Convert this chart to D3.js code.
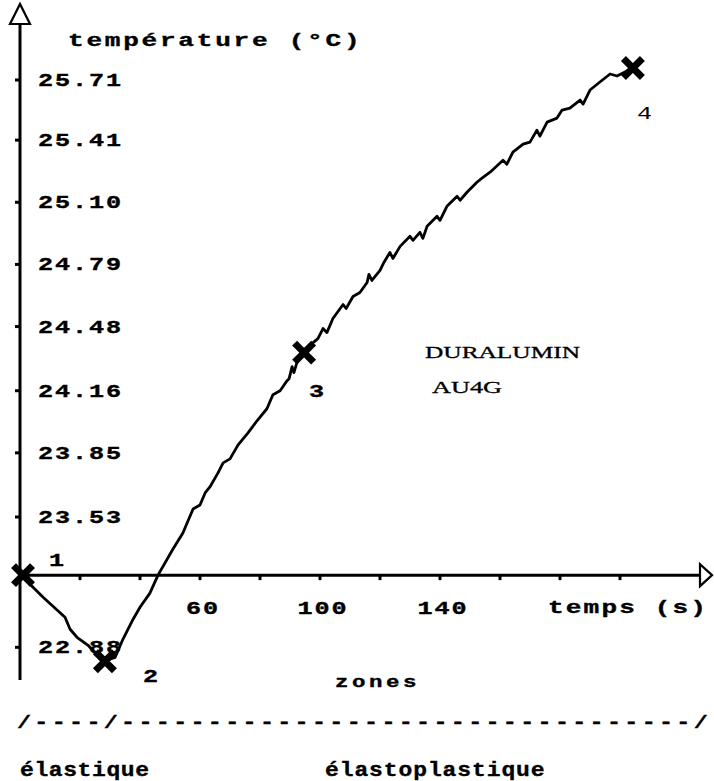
<!DOCTYPE html>
<html>
<head>
<meta charset="utf-8">
<script src="https://cdn.jsdelivr.net/npm/d3@7"></script>
<style>
html,body{margin:0;padding:0;background:#fff;}
svg{display:block;}
</style>
</head>
<body>
<svg id="chart" width="714" height="781"></svg>
<script>
// ---- data ----
const timeS = [0, 1, 7.7, 15, 16.7, 19, 22.7, 25.7, 27.7, 31.7, 34.3, 37.7, 40, 43.3, 46, 51, 54.3, 55.7, 57.7, 60, 61.7, 63.3, 66, 67.7, 70, 72.7, 76, 79, 82.3, 84.3, 86.7, 89, 89.7, 90.7, 91.3, 92.3, 93.3, 94.3, 97.7, 99.3, 101, 102.3, 104.3, 107.7, 108.7, 111, 113.3, 115.7, 116.3, 117.3, 120, 121.3, 123.3, 124.3, 126.7, 130, 131, 133.3, 134.3, 135.7, 139, 140, 142.3, 145.7, 146.7, 149, 152.3, 154, 156.7, 161, 162.3, 164.3, 167.7, 170, 172.3, 173.3, 175.7, 179, 180.7, 183.3, 186.7, 187.7, 190, 193.3, 196.7, 199, 204.3];
const tempC = [23.24, 23.23, 23.13, 23.03, 22.97, 22.93, 22.89, 22.84, 22.81, 22.83, 22.92, 23.02, 23.08, 23.15, 23.24, 23.37, 23.45, 23.50, 23.57, 23.59, 23.65, 23.68, 23.75, 23.80, 23.82, 23.89, 23.95, 24.01, 24.07, 24.14, 24.16, 24.21, 24.22, 24.28, 24.25, 24.30, 24.33, 24.35, 24.40, 24.42, 24.47, 24.45, 24.52, 24.59, 24.57, 24.63, 24.65, 24.70, 24.74, 24.71, 24.76, 24.80, 24.85, 24.82, 24.88, 24.93, 24.91, 24.95, 24.92, 24.98, 25.03, 25.01, 25.08, 25.13, 25.11, 25.15, 25.20, 25.22, 25.25, 25.31, 25.29, 25.35, 25.39, 25.40, 25.46, 25.43, 25.50, 25.52, 25.56, 25.57, 25.61, 25.59, 25.66, 25.70, 25.74, 25.73, 25.77];

const markerTime = [1, 28.3, 94.7, 204.3];
const markerTemp = [23.24, 22.81, 24.35, 25.77];
const markerLabels = ["1", "2", "3", "4"];

const yTickValues = [25.71, 25.41, 25.10, 24.79, 24.48, 24.16, 23.85, 23.53, 22.88];
const xTickValues = [20, 40, 60, 80, 100, 120, 140, 160, 180, 200];
const xLabelValues = [60, 100, 140];
const axisBaseTemp = 23.24;

const titleY = "température (°C)";
const titleX = "temps (s)";
const materialLines = ["DURALUMIN", "AU4G"];
const zonesTitle = "zones";
const zonesLine = "/----/---------------------------------/";
const zoneNames = ["élastique", "élastoplastique"];

// ---- scales ----
const svg = d3.select("#chart");
const x = d3.scaleLinear().domain([0, 200]).range([20, 620]);
const y = d3.scaleLinear().domain([23.53, 25.71]).range([517, 80]);
const x0 = x(0), yBase = y(axisBaseTemp);

function mono(sel, str, px, py, o) {
  const size = o.size || 18, sx = o.sx || 1.4, pitch = o.pitch || 17;
  const ls = pitch / sx - size * 0.6;
  let sx0 = px;
  if (o.anchor === "middle") {
    const w = str.length * pitch - ls * sx;
    sx0 = px - w / 2;
  }
  return sel.append("text")
    .attr("transform", `translate(${sx0},${py}) scale(${sx},1)`)
    .attr("font-family", o.family || "'Liberation Mono', 'DejaVu Sans Mono', monospace")
    .attr("font-weight", o.weight || "bold")
    .attr("font-size", size)
    .attr("letter-spacing", ls)
    .attr("fill", "#000")
    .attr("stroke", o.weight === "normal" ? "none" : "#000")
    .attr("stroke-width", o.weight === "normal" ? 0 : 0.35)
    .text(str);
}

// ---- axes ----
const axes = svg.append("g");
axes.append("line").attr("x1", x0).attr("x2", x0).attr("y1", 24).attr("y2", 680)
  .attr("stroke", "#000").attr("stroke-width", 3);
axes.append("line").attr("x1", 20).attr("x2", 700).attr("y1", yBase).attr("y2", yBase)
  .attr("stroke", "#000").attr("stroke-width", 3);
// arrows
axes.append("path").attr("d", `M${x0},4 L${x0 - 10},24 L${x0 + 10},24 Z`)
  .attr("fill", "#fff").attr("stroke", "#000").attr("stroke-width", 2.2);
axes.append("path").attr("d", `M712,${yBase} L700,${yBase - 11} L700,${yBase + 11} Z`)
  .attr("fill", "#fff").attr("stroke", "#000").attr("stroke-width", 2.2);

// y ticks
axes.selectAll(".yt").data(yTickValues).enter().append("line")
  .attr("x1", x0 - 5).attr("x2", x0).attr("y1", d => y(d)).attr("y2", d => y(d))
  .attr("stroke", "#000").attr("stroke-width", 3);
yTickValues.forEach(v => mono(axes, v.toFixed(2), 38, y(v) + 6, {size: 18, sx: 1.4, pitch: 17}));

// x ticks
axes.selectAll(".xt").data(xTickValues).enter().append("line")
  .attr("x1", d => x(d)).attr("x2", d => x(d)).attr("y1", yBase).attr("y2", yBase + 5)
  .attr("stroke", "#000").attr("stroke-width", 3);
xLabelValues.forEach(v => mono(axes, String(v), x(v) + 2, 614, {size: 18, sx: 1.4, pitch: 17, anchor: "middle"}));

// axis titles
mono(svg, titleY, 68, 46, {size: 18, sx: 1.45, pitch: 18.4});
mono(svg, titleX, 548, 613, {size: 18, sx: 1.45, pitch: 17.8});

// ---- curve ----
const pts = timeS.map((t, i) => [t, tempC[i]]);
svg.append("path").datum(pts)
  .attr("d", d3.line().x(d => x(d[0])).y(d => y(d[1])))
  .attr("fill", "none").attr("stroke", "#000").attr("stroke-width", 2.8)
  .attr("stroke-linejoin", "round");

// ---- markers ----
const mk = svg.append("g");
markerTime.forEach((t, i) => {
  const cx = x(t), cy = y(markerTemp[i]), r = 9.5;
  mk.append("path").attr("d", `M${cx - r},${cy - r} L${cx + r},${cy + r} M${cx - r},${cy + r} L${cx + r},${cy - r}`)
    .attr("stroke", "#000").attr("stroke-width", 7).attr("fill", "none");
});
const labelOffsets = [[26, -9], [38, 21], [5, 44], [4, 51]];
markerLabels.forEach((s, i) => {
  mono(svg, s, x(markerTime[i]) + labelOffsets[i][0], y(markerTemp[i]) + labelOffsets[i][1],
    {size: 18, sx: 1.4, pitch: 17, weight: i === 3 ? "normal" : "bold"});
});

// ---- material text ----
svg.append("text").attr("x", 425).attr("y", 358)
  .attr("font-family", "'Liberation Serif', 'DejaVu Serif', serif").attr("font-size", 16)
  .attr("stroke", "#000").attr("stroke-width", 0.3)
  .attr("textLength", 155).attr("lengthAdjust", "spacingAndGlyphs").text(materialLines[0]);
svg.append("text").attr("x", 432).attr("y", 393)
  .attr("font-family", "'Liberation Serif', 'DejaVu Serif', serif").attr("font-size", 16)
  .attr("stroke", "#000").attr("stroke-width", 0.3)
  .attr("textLength", 70).attr("lengthAdjust", "spacingAndGlyphs").text(materialLines[1]);

// ---- zones ----
mono(svg, zonesTitle, 335, 687, {size: 16, sx: 1.4, pitch: 17});
mono(svg, zonesLine, 17, 728, {size: 18, sx: 1.3, pitch: 17.36});
mono(svg, zoneNames[0], 20, 776, {size: 20, sx: 1.15, pitch: 14.4});
mono(svg, zoneNames[1], 325, 776, {size: 20, sx: 1.15, pitch: 14.7});
</script>
</body>
</html>
